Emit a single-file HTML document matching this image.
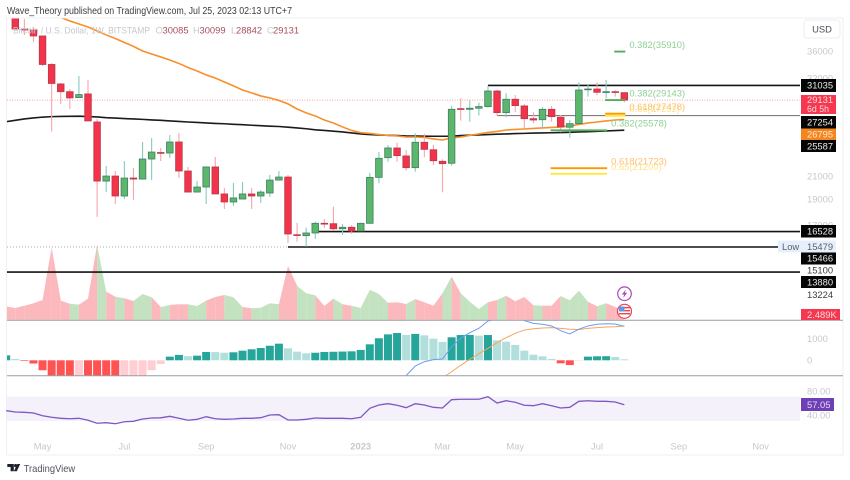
<!DOCTYPE html>
<html>
<head>
<meta charset="utf-8">
<title>BTC/USD weekly chart</title>
<style>
html,body{margin:0;padding:0;background:#fff}
svg{display:block;font-family:"Liberation Sans",sans-serif;filter:blur(0.3px)}
.ax{font-size:9.4px;fill:#c6c8cd}
.tg{font-size:9.4px;fill:#e8e8e8}
</style>
</head>
<body>
<svg xmlns="http://www.w3.org/2000/svg" width="850" height="480" viewBox="0 0 850 480">
<defs>
<clipPath id="clip-main"><rect x="7" y="18.5" width="793" height="301.5"/></clipPath>
<clipPath id="clip-macd"><rect x="7" y="320.5" width="793" height="55"/></clipPath>
</defs>
<rect x="0" y="0" width="850" height="480" fill="#fff"/>
<text x="7" y="14" font-size="9.8" fill="#3a3c42" textLength="285" lengthAdjust="spacingAndGlyphs">Wave_Theory published on TradingView.com, Jul 25, 2023 02:13 UTC+7</text>
<rect x="6.5" y="18" width="836.5" height="437" fill="none" stroke="#eef0f2" stroke-width="1"/>
<rect x="7" y="396.7" width="793" height="24.3" fill="#f4f1fa"/>
<g id="marks"></g>
<g id="ticks"></g>
<line x1="7" x2="843" y1="320.3" y2="320.3" stroke="#9a9ca1" stroke-width="1"/>
<line x1="7" x2="843" y1="375.8" y2="375.8" stroke="#9a9ca1" stroke-width="1"/>

<g font-size="9.4">
<text x="13" y="33.3" fill="#c6c8cd" textLength="137" lengthAdjust="spacingAndGlyphs">Bitcoin / U.S. Dollar, 1W, BITSTAMP</text>
<text x="155.5" y="33.3" fill="#c6c8cd">O</text>
<text x="162.5" y="33.3" fill="#a8505a">30085</text>
<text x="193" y="33.3" fill="#c6c8cd">H</text>
<text x="199.5" y="33.3" fill="#a8505a">30099</text>
<text x="231" y="33.3" fill="#c6c8cd">L</text>
<text x="236" y="33.3" fill="#a8505a">28842</text>
<text x="267" y="33.3" fill="#c6c8cd">C</text>
<text x="273" y="33.3" fill="#a8505a">29131</text>
</g>

<g>
<rect x="804" y="20" width="36" height="18" rx="3" fill="#fff" stroke="#eceef0"/>
<text x="822" y="32.5" font-size="9.4" fill="#4a4c52" text-anchor="middle">USD</text>
</g>

<g>
<rect x="801" y="79" width="35" height="13" fill="#050505"/>
<text x="807" y="88.5" class="tg">31035</text>
<rect x="801" y="95" width="35" height="19" fill="#f5384f"/>
<text x="807" y="103" class="tg" style="fill:#fbd8dc">29131</text>
<text x="807" y="112" class="tg" style="fill:#fbd8dc;font-size:8.8px">6d 5h</text>
<rect x="801" y="116" width="35" height="12.5" fill="#050505"/>
<text x="807" y="125.5" class="tg">27254</text>
<rect x="801" y="128.5" width="35" height="11.5" fill="#f5851f"/>
<text x="807" y="137.5" class="tg" style="fill:#ffe9d0">26795</text>
<rect x="801" y="140" width="35" height="12" fill="#050505"/>
<text x="807" y="149.5" class="tg">25587</text>
<rect x="801" y="225" width="35" height="12.5" fill="#050505"/>
<text x="807" y="234.5" class="tg">16528</text>
<rect x="778" y="240.5" width="58" height="12" fill="#e6f0fc"/>
<text x="782" y="250" font-size="9.4" fill="#5a5f68">Low</text>
<text x="807" y="250" font-size="9.4" fill="#5a5f68">15479</text>
<rect x="801" y="252.5" width="35" height="12" fill="#050505"/>
<text x="807" y="261.5" class="tg">15466</text>
<text x="807" y="273.5" font-size="9.4" fill="#3a3c42">15100</text>
<rect x="801" y="276" width="35" height="12" fill="#050505"/>
<text x="807" y="285.5" class="tg">13880</text>
<text x="807" y="298" font-size="9.4" fill="#3a3c42">13224</text>
<rect x="801" y="309" width="39" height="11" fill="#f5384f"/>
<text x="807" y="318" class="tg" style="fill:#fbd8dc">2.489K</text>
<rect x="801" y="398" width="33" height="13" fill="#6f3fb5"/>
<text x="807" y="408" class="tg" style="fill:#e6dcf5">57.05</text>
</g>

<g>
<circle cx="624.5" cy="293.7" r="6.8" fill="#fff" stroke="#ab47bc" stroke-width="1.2"/>
<polygon points="625.8,289.5 621.8,294.5 624.2,294.5 623.2,298 627.2,292.8 624.8,292.8" fill="#ab47bc"/>
</g>
<g>
<circle cx="624.5" cy="311.3" r="7" fill="#fff" stroke="#ef4050" stroke-width="1.2"/>
<rect x="619" y="306.5" width="5.5" height="5" fill="#5a9be6"/>
<rect x="624.5" y="307" width="5.5" height="1.4" fill="#ef4050"/>
<rect x="624.5" y="310" width="5.5" height="1.4" fill="#ef4050"/>
<rect x="619" y="313" width="11" height="1.4" fill="#ef4050"/>
</g>

<g>
<polygon points="7.3,464 13.8,464 13.8,471.2 10.6,471.2 10.6,467 7.3,467" fill="#1e222d"/>
<circle cx="15.6" cy="465.6" r="1.6" fill="#1e222d"/>
<polygon points="17.4,464 20.2,464 16.8,471.2 13.8,471.2" fill="#1e222d"/>
<text x="23.7" y="472" font-size="10.4" fill="#50535e" textLength="51.5" lengthAdjust="spacingAndGlyphs">TradingView</text>
</g>
</svg>

<script>
// Weekly bars. First entry is the partly hidden bar left of the frame.
const opens=[46000,42960,39580,39410,38410,33970,31230,30210,29450,29920,26510,20550,21000,19270,20820,20730,22600,23240,23190,24320,21460,19600,20030,21840,19440,18780,19020,19440,19270,19520,20640,20910,16310,16240,16430,17130,17100,16730,16840,16570,17130,20880,22730,23700,22900,21770,24290,23520,22380,22190,28080,28000,28130,28330,30300,27600,29240,28410,26890,26770,28000,27060,25920,26320,30470,30560,30130,30210,30085];
const highs=[47000,42960,41330,39930,38500,34190,31370,30560,32330,31770,26860,21930,21460,22400,21740,24320,24750,23700,25070,25290,21840,20550,21840,22800,19940,20380,20470,19940,19770,21100,21460,21100,17160,16810,17250,17460,18400,17080,16980,17180,21280,23310,24010,24250,23490,25250,25180,24010,22570,28410,29370,29150,28820,30970,30430,30010,29790,28620,27650,28250,28410,27330,26740,31460,31230,31460,31770,30390,30099];
const lows=[42960,39580,38580,37430,33750,25430,28660,28040,29410,26630,17610,19600,18620,19020,18940,20680,20640,22400,22700,20820,19560,19560,18620,19440,18220,18460,19020,18220,18700,19190,20640,15740,15830,15490,16010,16790,16590,16290,16360,16570,17110,20350,22340,22340,21490,21400,22770,22020,19580,21960,26660,26550,27250,28200,27210,27060,27650,25800,26370,25800,26550,25360,24780,26320,29570,29750,29370,29570,28842];
const closes=[43000,39580,39410,38410,33970,31300,30210,29410,29830,26630,20550,21000,19270,20820,20730,22600,23290,23190,24320,21460,19600,20030,21840,19440,18780,19110,19440,19270,19600,20640,20910,16360,16260,16430,17130,17080,16730,16840,16570,17130,20880,22670,23700,22930,21770,24290,23560,22430,22150,28000,28000,28130,28330,30300,27600,29240,28450,26890,26740,28000,27130,25950,26320,30430,30560,30130,30210,30130,29131];
const volumes=[3550,3100,3710,4350,5220,19190,5040,4240,3980,5570,19880,7420,6100,5670,4960,6810,5940,3370,3900,4080,4080,3630,5040,6020,6550,5940,3370,3020,3180,4350,4080,14230,9010,7000,6470,3630,5570,4080,3710,3100,7950,6810,4500,4610,4160,5490,4610,3710,7000,11400,7000,4770,2840,4610,5220,6360,4880,6020,3820,3710,3710,6280,5140,7690,4770,3550,4350,3370,2489];
const ma50=[null,null,null,null,null,42500,41600,40980,40450,39930,39240,38580,38000,37350,36720,36000,35540,35090,34630,34120,33530,33030,32470,32050,31500,30970,30430,30050,29660,29410,29090,28660,28040,27570,27210,26740,26400,25950,25560,25320,25230,25120,25020,24960,24850,24850,24800,24640,24530,24750,24850,25020,25180,25340,25450,25610,25670,25720,25780,25840,25890,25950,26060,26230,26400,26510,26630,26740,26795];
const ma200=[26550,26700,26860,26980,27070,27130,27150,27170,27180,27140,27090,27010,26960,26900,26860,26810,26750,26700,26630,26570,26510,26460,26400,26350,26310,26250,26200,26140,26090,26040,26000,25920,25840,25750,25630,25560,25480,25400,25290,25180,25110,25070,25030,25000,24960,24950,24940,24930,24930,24940,25000,25040,25070,25110,25150,25180,25220,25240,25270,25290,25310,25330,25360,25400,25430,25470,25510,25550,25587];
const macdHist=[230,60,-30,-150,-460,-950,-1100,-1150,-1100,-1150,-1300,-1400,-1500,-1400,-1300,-1100,-460,-170,170,250,190,215,385,380,350,370,445,510,570,675,770,555,400,325,350,385,395,405,415,480,740,1020,1200,1265,1170,1220,1155,1000,850,1065,1170,1175,1140,1170,925,860,710,445,260,185,60,-140,-220,-20,170,185,190,150,45];
const macdLine=[null,null,null,null,null,null,null,null,null,null,null,null,null,null,null,null,null,null,null,null,null,null,null,null,null,null,null,null,null,null,null,null,null,null,null,null,null,null,null,null,null,null,null,-1140,-710,-265,-65,30,60,630,1020,1280,1480,1820,1910,2240,2240,1840,1710,1670,1590,1370,1220,1440,1590,1670,1690,1680,1570];
const signalLine=[null,null,null,null,null,null,null,null,null,null,null,null,null,null,null,null,null,null,null,null,null,null,null,null,null,null,null,null,null,null,null,null,null,null,null,null,null,null,null,null,null,null,null,null,null,null,null,null,-815,-530,-230,45,305,555,815,1045,1250,1400,1460,1495,1510,1480,1435,1425,1480,1510,1540,1555,1590];
const rsiValues=[47.2,45,44.5,43.3,38.8,36.2,34.5,33.8,34.5,31.2,26.2,27.2,25.5,28.8,29.5,33.3,35,35.3,37.8,34.5,31.2,32.8,37.2,33.8,32.8,33.3,34.5,34.5,35.5,40,40.5,31.7,31.7,32.8,35,34.5,34.5,34.5,33.8,36.2,51.2,56.7,58.8,56.2,52.2,58.8,56.7,52.8,51.7,65.5,66.2,66.2,66.2,70.5,60,63.8,61.2,56.2,55.5,58.8,55.5,51.7,52.8,62.8,63.8,62.8,62.8,61.7,57.05];
// Horizontal drawn levels
const levelPrices=[31035,27254,16528,15466,13880];
const levelStartBars=[53,54,34,31,0];
const currentPrice=29131;
const lowPrice=15466;
// Fibonacci markers
const fibRatios=["0.382","0.382","0.618","0.65","0.382","0.618","0.65"];
const fibPrices=[35910,29143,27478,27232,25578,21723,21200];
const fibStartBars=[67,66,66,66,60,60,60];
const fibEndBars=[68,68,68,68,66,66,66];
const fibKinds=["g","g","o","y","g","o","y"];
// Tick labels
const priceTicks=[36000,32000,21000,19000,17000];
const macdTicks=[1000,0];
const rsiTicks=["80.00","40.00"];
const timeLabels=["May","Jul","Sep","Nov","2023","Mar","May","Jul","Sep","Nov"];
const timeBars=[4,13,22,31,39,48,56,65,74,83];

const NS="http://www.w3.org/2000/svg";
const marks=document.getElementById('marks');
const ticks=document.getElementById('ticks');
function xBar(i){return 6.2+9.09*i;}
function yPrice(p){return 51+232*Math.log(36000/p);}
function yVol(v){return 319.7-v/265;}
function yMacd(v){return 360.3-v*0.0216;}
function yRsi(v){return 415-(v-40)*0.6;}
function mk(tag,parent,props){
  const el=document.createElementNS(NS,tag);
  for(const k in props){el.setAttribute(k,props[k]);}
  parent.appendChild(el);
  return el;
}
function pathFrom(values,yFn){
  let d='',pen=false;
  values.forEach(function(v,i){
    if(v===null){return;}
    d+=(pen?'L':'M')+xBar(i).toFixed(2)+' '+yFn(v).toFixed(2);
    pen=true;
  });
  return d;
}

const gMain=mk('g',marks,{'clip-path':'url(#clip-main)'});


const gMacd=mk('g',marks,{'clip-path':'url(#clip-macd)'});



// Volume areas, each span coloured by the bar it leads into
for(let i=1;i<volumes.length;i++){
  const up=closes[i]>=opens[i];
  const pts=[[xBar(i-1),319.7],[xBar(i-1),yVol(volumes[i-1])],[xBar(i),yVol(volumes[i])],[xBar(i),319.7]];
  const el=mk('polygon',gMain,{points:pts.map(function(p){return p[0].toFixed(2)+','+p[1].toFixed(2);}).join(' '),fill:up?'#c3e2c0':'#fbb8bd'});
  
  
}

// Low and current price dotted lines
const lowLine=mk('line',gMain,{x1:7,x2:xBar(31),y1:yPrice(lowPrice),y2:yPrice(lowPrice),stroke:'#8a8c90','stroke-width':0.8,'stroke-dasharray':'1 2'});


const curLine=mk('line',gMain,{x1:7,x2:800,y1:yPrice(currentPrice),y2:yPrice(currentPrice),stroke:'#f8a0a8','stroke-width':0.9,'stroke-dasharray':'1 1.5'});



// Moving averages
const ma200Path=mk('path',gMain,{d:pathFrom(ma200,yPrice),fill:'none',stroke:'#1b1b1b','stroke-width':1.6});


const ma50Path=mk('path',gMain,{d:pathFrom(ma50,yPrice),fill:'none',stroke:'#f7902c','stroke-width':1.6});



// Horizontal levels
levelPrices.forEach(function(p,i){
  const gray=p===27254;
  const el=mk('line',gMain,{x1:xBar(levelStartBars[i]),x2:800,y1:yPrice(p),y2:yPrice(p),stroke:gray?'#7d7d7d':'#141414','stroke-width':gray?1.1:1.6});
  
  
});

// Candles
for(let i=0;i<opens.length;i++){
  const up=closes[i]>=opens[i];
  const x=xBar(i);
  const wick=mk('line',gMain,{x1:x,x2:x,y1:yPrice(highs[i]),y2:yPrice(lows[i]),stroke:up?'#85cbbd':'#f9a4ac','stroke-width':1.1});
  
  
  const top=yPrice(Math.max(opens[i],closes[i]));
  const bot=yPrice(Math.min(opens[i],closes[i]));
  const body=mk('rect',gMain,{x:x-3.3,y:top,width:6.6,height:Math.max(bot-top,0.8),fill:up?'#5cb66c':'#f2334a',stroke:up?'#3f7f62':'#b53a4a','stroke-width':0.8});
  
  
}

// Fibonacci markers and labels
const fibLine={g:'#55ad5a',o:'#ff9800',y:'#ffe93b'};
const fibText={g:'#8fcf92',o:'#ffbf70',y:'#ffe38a'};
[3,0,1,2,4,6,5].forEach(function(i){
  const y=yPrice(fibPrices[i]);
  const k=fibKinds[i];
  const ln=mk('line',gMain,{x1:xBar(fibStartBars[i])-1,x2:xBar(fibEndBars[i])+1,y1:y,y2:y,stroke:fibLine[k],'stroke-width':1.9});
  
  
  const t=mk('text',gMain,{x:xBar(fibEndBars[i])+5,y:y-3.6,'font-size':9.4,fill:fibText[k]});
  
  
  t.textContent=fibRatios[i]+'('+fibPrices[i]+')';
});

// MACD histogram
macdHist.forEach(function(v,i){
  const prev=i>0?macdHist[i-1]:v-1;
  const rising=v>prev;
  const fill=v>=0?(rising?'#26a69a':'#b2dfdb'):(rising?'#ffcdd2':'#ff5252');
  const y0=yMacd(0),y1=yMacd(v);
  const el=mk('rect',gMacd,{x:xBar(i)-4,y:Math.min(y0,y1),width:8,height:Math.abs(y1-y0),fill:fill});
  
  
});
const sigPath=mk('path',gMacd,{d:pathFrom(signalLine,yMacd),fill:'none',stroke:'#f7a35c','stroke-width':1});


const macPath=mk('path',gMacd,{d:pathFrom(macdLine,yMacd),fill:'none',stroke:'#6a9bf4','stroke-width':1});



// RSI
const rsiPath=mk('path',marks,{d:pathFrom(rsiValues,yRsi),fill:'none',stroke:'#7e57c2','stroke-width':1.3});



// Axis labels
priceTicks.forEach(function(p){
  const t=mk('text',ticks,{x:807,y:yPrice(p)+3.4,class:'ax'});
  
  
  t.textContent=String(p);
});
macdTicks.forEach(function(v){
  const t=mk('text',ticks,{x:807,y:yMacd(v)+3.4,class:'ax'});
  
  
  t.textContent=String(v);
});
rsiTicks.forEach(function(v){
  const t=mk('text',ticks,{x:807,y:yRsi(parseFloat(v))+3.4,class:'ax'});
  
  
  t.textContent=v;
});
timeLabels.forEach(function(s,i){
  const t=mk('text',ticks,{x:xBar(timeBars[i]),y:449.5,class:'ax','text-anchor':'middle','font-weight':s==='2023'?'bold':'normal'});
  
  
  t.textContent=s;
});
</script>
</body>
</html>
